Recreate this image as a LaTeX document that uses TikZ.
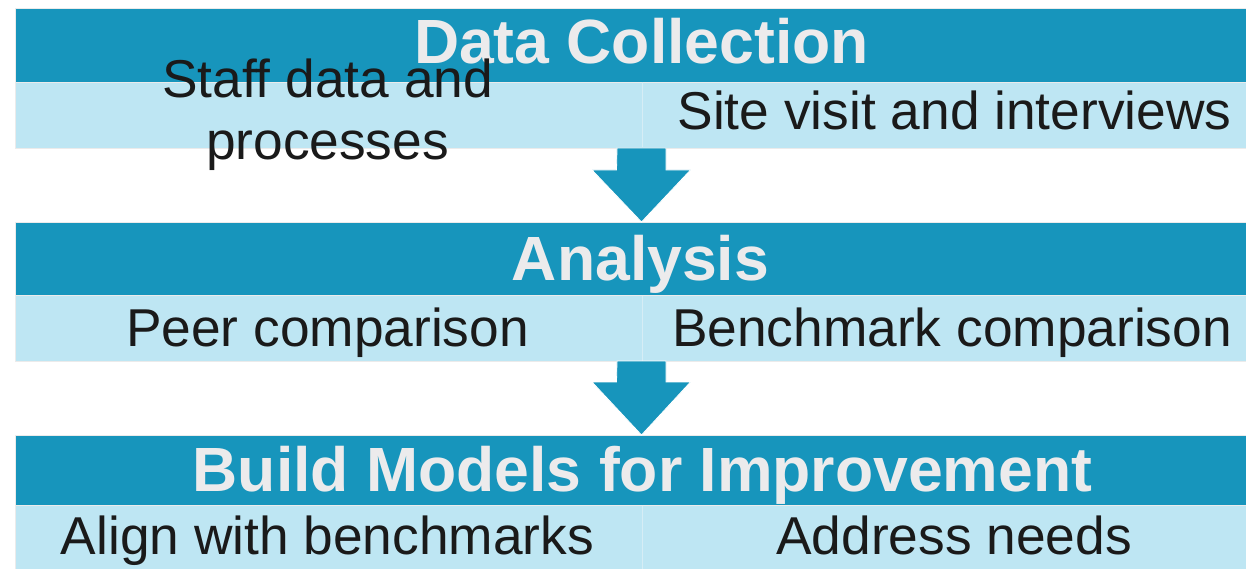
\documentclass[tikz,border=0pt]{standalone}
\usepackage{fontspec}
\setmainfont{Liberation Sans}
\definecolor{dark}{HTML}{1795BC}
\definecolor{light}{HTML}{BEE6F3}
\definecolor{headtxt}{HTML}{ECEBEC}
\definecolor{bodytxt}{HTML}{1A1A1A}
\definecolor{divider}{HTML}{D6EDF5}
\begin{document}
\begin{tikzpicture}[x=1pt,y=-1pt,
  bar/.style={fill=dark, draw=black!8, line width=0.6pt, minimum width=1253pt, inner sep=0pt, outer sep=0pt},
  band/.style={fill=light, draw=black!8, line width=0.6pt, minimum width=1253pt, inner sep=0pt, outer sep=0pt},
  head/.style={anchor=base, inner sep=0pt, text=headtxt, font=\fontsize{62.5}{62.5}\selectfont\bfseries},
  body/.style={anchor=base, inner sep=0pt, text=bodytxt, font=\fontsize{53.3}{62}\selectfont},
  blockarrow/.style={fill=dark, draw=white, line width=0.8pt, line join=miter},
  divline/.style={draw=divider, line width=1pt}]
\useasboundingbox (0,0) rectangle (1246,569);
\clip (0,0) rectangle (1246,569);
\fill[white] (0,0) rectangle (1246,569);

% stage 1
\node[bar, minimum height=74pt] (bar1) at (641.5,45) {};
\node[band, minimum height=66pt] (band1) at (641.5,115) {};
\draw[divline] (band1.north) ++(0.5,0.5) -- ([yshift=0.5pt,xshift=0.5pt]band1.south);
% stage 2
\node[bar, minimum height=73pt] (bar2) at (641.5,258.5) {};
\node[band, minimum height=66pt] (band2) at (641.5,328) {};
\draw[divline] (band2.north) ++(0.5,0.5) -- ([yshift=0.5pt,xshift=0.5pt]band2.south);
% stage 3
\node[bar, minimum height=70pt] (bar3) at (641.5,470) {};
\node[band, minimum height=72pt] (band3) at (641.5,541) {};
\draw[divline] (band3.north) ++(0.5,0.5) -- ([xshift=0.5pt]band3.south);

% block arrows
\draw[blockarrow] (band1.south) ++(-24.5,0) -- ++(49,0) -- ++(0,22) -- ++(24.5,0)
  -- (bar2.north) -- ++(-49.5,-52) -- ++(24.5,0) -- cycle;
\draw[blockarrow] (band2.south) ++(-24.5,0) -- ++(49,0) -- ++(0,21) -- ++(24.5,0)
  -- (bar3.north) -- ++(-49.5,-53) -- ++(24.5,0) -- cycle;

% headings
\node[head] (h1) at (641.5,64) {Data Collection};
\node[head] (h2) at (640.5,280) {Analysis};
\node[head] (h3) at (642.5,491) {Build Models for Improvement};

% sub items
\node[body, align=center] (t11) at (327.5,160) {Staff data and\\processes};
\node[body] (t12) at (954.5,130) {Site visit and interviews};
\node[body] (t21) at (327.5,346) {Peer comparison};
\node[body] (t22) at (952,346) {Benchmark comparison};
\node[body] (t31) at (327.5,554) {Align with benchmarks};
\node[body] (t32) at (954,554) {Address needs};
\end{tikzpicture}
\end{document}
